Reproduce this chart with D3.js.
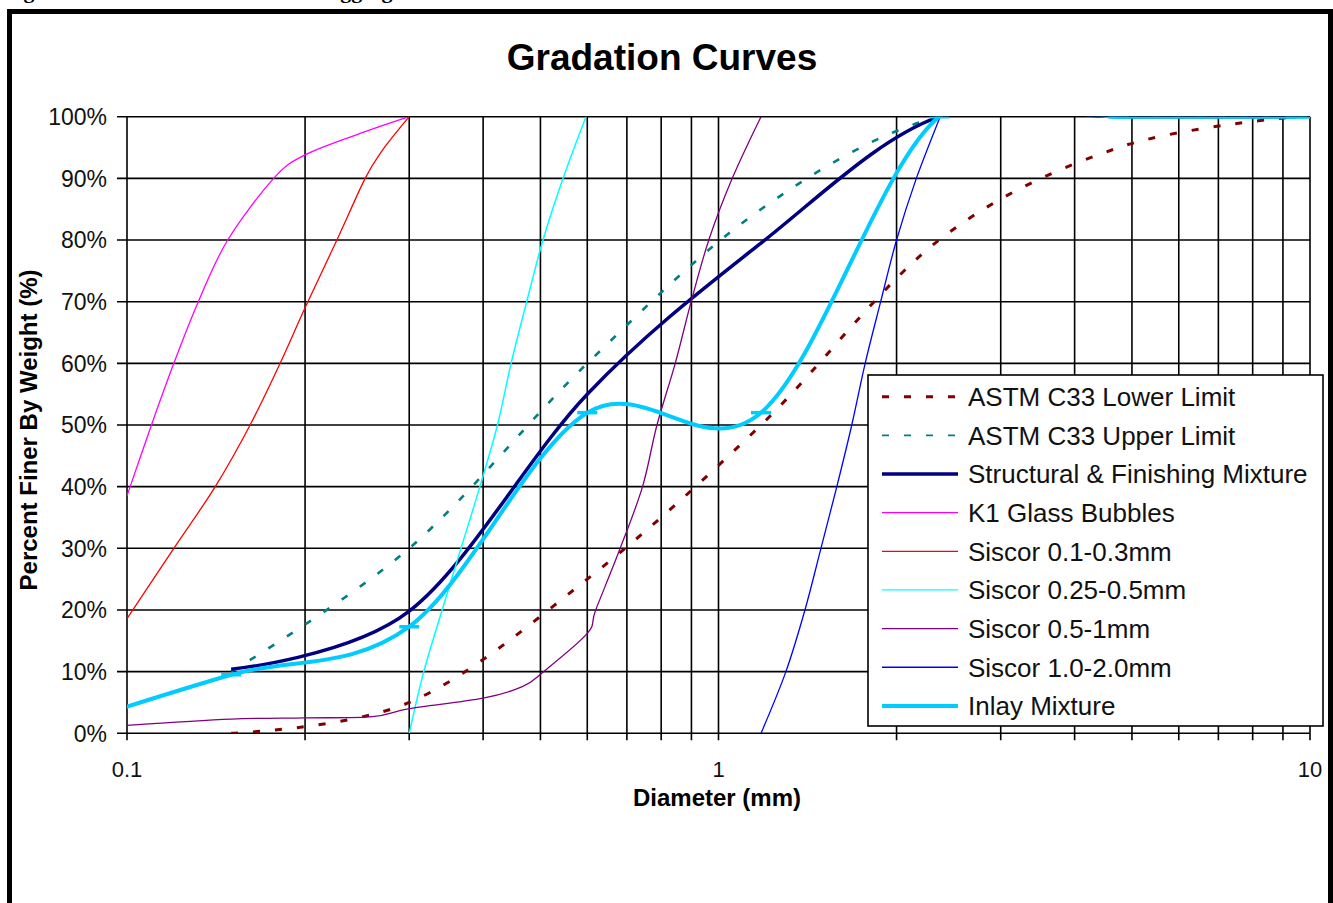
<!DOCTYPE html>
<html>
<head>
<meta charset="utf-8">
<script src="https://cdn.jsdelivr.net/npm/d3@7"></script>
<style>
  body { margin: 0; background: #fff; }
  svg { display: block; }
  text { font-family: Arial, "Liberation Sans", sans-serif; }
</style>
</head>
<body>
<svg id="chart" width="1333" height="903"></svg>
<script>
// ---- Gradation data: [diameter (mm), percent finer by weight] ----
const lowerLimit    = [[0.15, 0], [0.3, 5], [0.6, 25], [1.18, 50], [2.36, 80], [4.75, 95], [9.5, 100]];
const upperLimit    = [[0.15, 10], [0.3, 30], [0.6, 60], [1.18, 85], [2.36, 100], [4.75, 100], [9.5, 100]];
const structuralMix = [[0.15, 10.4], [0.3, 19.8], [0.6, 55], [1.18, 79.5], [2.36, 100], [4.75, 100], [9.5, 100]];
const k1Bubbles     = [[0.1, 38.5], [0.11, 50], [0.12, 60], [0.132, 70], [0.148, 80], [0.177, 90], [0.2, 93.8], [0.25, 97.4], [0.3, 100]];
const siscor01to03  = [[0.1, 18.6], [0.12, 30], [0.141, 40], [0.1615, 50], [0.1815, 60], [0.2, 69], [0.2264, 80], [0.2527, 90], [0.27, 94.5], [0.3, 100]];
const siscor025to05 = [[0.3, 0], [0.3175, 10], [0.341, 20], [0.367, 30], [0.395, 40], [0.423, 50], [0.446, 60], [0.474, 70], [0.505, 80], [0.546, 90], [0.597, 100]];
const siscor05to1   = [[0.1, 1.3], [0.15, 2.3], [0.2, 2.5], [0.26, 2.7], [0.3, 4.0], [0.4, 5.7], [0.467, 7.6], [0.506, 10], [0.6, 16.2], [0.62, 20], [0.682, 30], [0.744, 40], [0.787, 50], [0.845, 60], [0.899, 70], [0.963, 80], [1.055, 90], [1.18, 100]];
const siscor1to2    = [[1.18, 0], [1.30, 10], [1.40, 20], [1.49, 30], [1.585, 40], [1.68, 50], [1.77, 60], [1.88, 70], [2.0, 80], [2.16, 90], [2.37, 100]];
const inlayMix      = [[0.075, 0.5], [0.15, 9.5], [0.3, 17.3], [0.6, 52], [1.18, 52], [2.36, 100], [4.75, 100], [9.5, 100], [12.5, 100]];

const seriesNames = ["ASTM C33 Lower Limit", "ASTM C33 Upper Limit", "Structural & Finishing Mixture",
  "K1 Glass Bubbles", "Siscor 0.1-0.3mm", "Siscor 0.25-0.5mm", "Siscor 0.5-1mm", "Siscor 1.0-2.0mm", "Inlay Mixture"];
const seriesData = [lowerLimit, upperLimit, structuralMix, k1Bubbles, siscor01to03, siscor025to05, siscor05to1, siscor1to2, inlayMix];

const xDomain = [0.1, 10];
const yDomain = [0, 100];
const xTickLabels = [0.1, 1, 10];
const yTickValues = d3.range(0, 101, 10);

// ---- Styles ----
const styles = [
  { color: "#800000", width: 3,   dash: "7,15" },
  { color: "#008080", width: 2.6, dash: "7,15" },
  { color: "#000080", width: 3.5 },
  { color: "#FF00FF", width: 1.3 },
  { color: "#FF0000", width: 1.3 },
  { color: "#00FFFF", width: 1.5 },
  { color: "#800080", width: 1.3 },
  { color: "#0000FF", width: 1.3 },
  { color: "#00CCFF", width: 4, marker: true }
];

const svg = d3.select("#chart");
const plot = { left: 127, right: 1310, top: 116.7, bottom: 733.3 };

const x = d3.scaleLog().domain(xDomain).range([plot.left, plot.right]);
const y = d3.scaleLinear().domain(yDomain).range([plot.bottom, plot.top]);

// Caption above the chart frame (only its lowest strokes fit on the page)
svg.append("text")
  .attr("x", 4).attr("y", -2)
  .style("font-family", "'Liberation Serif', 'Times New Roman', serif")
  .style("font-weight", "bold").style("font-size", "22px")
  .text("Figure 6: Gradation of Combined Aggregates");

// Outer chart frame
svg.append("rect")
  .attr("x", 9.5).attr("y", 11.5).attr("width", 1321).attr("height", 900)
  .attr("fill", "#fff").attr("stroke", "#000").attr("stroke-width", 5);

// Title
svg.append("text")
  .attr("x", 662).attr("y", 70)
  .attr("text-anchor", "middle")
  .style("font-weight", "bold").style("font-size", "37px")
  .text("Gradation Curves");

// Gridlines
const xTicks = x.ticks();
const grid = svg.append("g").attr("stroke", "#000").attr("stroke-width", 1.6);
grid.selectAll("line.v").data(xTicks).join("line")
  .attr("class", "v")
  .attr("x1", d => x(d)).attr("x2", d => x(d))
  .attr("y1", plot.top).attr("y2", plot.bottom + 7);
grid.selectAll("line.h").data(yTickValues).join("line")
  .attr("class", "h")
  .attr("x1", plot.left - 10).attr("x2", plot.right)
  .attr("y1", d => y(d)).attr("y2", d => y(d));

// Y tick labels
svg.append("g").selectAll("text").data(yTickValues).join("text")
  .attr("x", 107).attr("y", d => y(d)).attr("dy", "0.36em")
  .attr("text-anchor", "end")
  .style("font-size", "23px").attr("fill", "#111")
  .text(d => d + "%");

// X tick labels
svg.append("g").selectAll("text").data(xTickLabels).join("text")
  .attr("x", d => x(d)).attr("y", 777)
  .attr("text-anchor", "middle")
  .style("font-size", "22px").attr("fill", "#111")
  .text(d => String(d));

// Axis titles
svg.append("text")
  .attr("x", 717).attr("y", 806)
  .attr("text-anchor", "middle")
  .style("font-weight", "bold").style("font-size", "24px")
  .text("Diameter (mm)");
svg.append("text")
  .attr("transform", "translate(37,430) rotate(-90)")
  .attr("text-anchor", "middle")
  .style("font-weight", "bold").style("font-size", "24px")
  .text("Percent Finer By Weight (%)");

// Series, clipped to the plot area
svg.append("clipPath").attr("id", "plotClip")
  .append("rect")
  .attr("x", plot.left).attr("y", plot.top)
  .attr("width", plot.right - plot.left).attr("height", plot.bottom - plot.top);

const line = d3.line()
  .x(d => x(d[0])).y(d => y(d[1]))
  .curve(d3.curveCardinal.tension(0));

const seriesG = svg.append("g").attr("clip-path", "url(#plotClip)");
seriesData.forEach((data, i) => {
  const s = styles[i];
  seriesG.append("path")
    .datum(data)
    .attr("d", line)
    .attr("fill", "none")
    .attr("stroke", s.color)
    .attr("stroke-width", s.width)
    .attr("stroke-dasharray", s.dash || null)
    .attr("stroke-linejoin", "round");
  if (s.marker) {
    seriesG.selectAll(null)
      .data(data.filter(d => d[0] >= xDomain[0] && d[0] <= xDomain[1]))
      .join("line")
      .attr("x1", d => x(d[0]) - 10).attr("x2", d => x(d[0]) + 10)
      .attr("y1", d => y(d[1])).attr("y2", d => y(d[1]))
      .attr("stroke", s.color).attr("stroke-width", 3.5);
  }
});

// Legend
const legend = svg.append("g");
legend.append("rect")
  .attr("x", 868).attr("y", 375).attr("width", 455).attr("height", 351)
  .attr("fill", "#fff").attr("stroke", "#000").attr("stroke-width", 1.6);
seriesNames.forEach((name, i) => {
  const s = styles[i];
  const cy = 396.7 + i * 38.65;
  legend.append("line")
    .attr("x1", 882).attr("x2", 958).attr("y1", cy).attr("y2", cy)
    .attr("stroke", s.color)
    .attr("stroke-width", s.width > 2 ? (s.dash ? (i === 1 ? 1.6 : 3) : s.width) : 1.3)
    .attr("stroke-dasharray", s.dash || null);
  legend.append("text")
    .attr("x", 968).attr("y", cy).attr("dy", "0.36em")
    .style("font-size", "26px").attr("fill", "#111")
    .text(name);
});
</script>
</body>
</html>
